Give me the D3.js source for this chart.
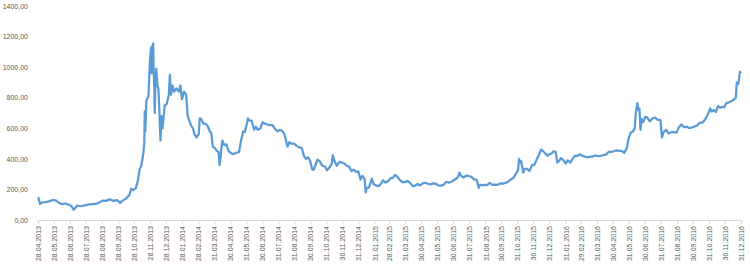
<!DOCTYPE html>
<html>
<head>
<meta charset="utf-8">
<script src="https://d3js.org/d3.v7.min.js"></script>
<style>
  body { margin: 0; background: #fff; }
  text { font-family: "Liberation Sans", Arial, sans-serif; fill: #595959; }
</style>
</head>
<body>
<script>
// price series (dd-mm pairs per year)
var dates2013 = ["04-28","04-29","05-02","05-06","05-12","05-19","05-26","06-01","06-08","06-13","06-20","06-27","07-01","07-05","07-08","07-12","07-19","07-26","08-02","08-09","08-16","08-23","08-30","09-05","09-12","09-19","09-26","10-02","10-06","10-13","10-20","10-23","10-27","11-01","11-05","11-08","11-11","11-15","11-17","11-18","11-19","11-21","11-25","11-28","11-30","12-01","12-02","12-04","12-05","12-06","12-07","12-08","12-10","12-12","12-14","12-16","12-18","12-20","12-22","12-26","12-30"];
var values2013 = [138,144,105,115,117,122,131,128,110,104,108,98,90,68,78,95,90,96,100,104,105,115,127,125,135,125,130,112,125,140,165,205,195,210,260,330,350,430,500,710,580,780,810,1050,1130,960,1130,1155,980,880,700,850,990,880,860,700,520,680,600,750,760];

var dates2014 = ["01-03","01-05","01-07","01-10","01-13","01-17","01-22","01-25","01-28","02-01","02-05","02-08","02-11","02-14","02-18","02-21","02-25","03-01","03-03","03-06","03-10","03-14","03-18","03-22","03-25","03-28","04-01","04-05","04-08","04-10","04-12","04-15","04-19","04-23","04-27","05-01","05-06","05-12","05-17","05-21","05-25","05-28","06-01","06-03","06-06","06-10","06-15","06-18","06-22","06-27","07-01","07-05","07-10","07-15","07-20","07-25","07-30","08-03","08-07","08-12","08-16","08-18","08-21","08-25","08-30","09-04","09-09","09-14","09-18","09-22","09-26","09-30","10-04","10-07","10-10","10-14","10-18","10-23","10-28","11-01","11-05","11-10","11-12","11-16","11-20","11-25","11-30","12-04","12-09","12-13","12-18","12-22","12-27","12-31"];
var values2014 = [820,950,820,880,840,860,840,880,790,840,820,680,650,620,600,560,540,560,665,660,630,630,615,580,570,480,470,450,445,360,420,520,490,495,450,440,430,440,445,520,580,575,630,665,650,650,590,610,590,600,640,630,625,620,620,595,580,590,585,560,500,480,510,500,500,485,475,470,420,400,410,385,330,330,360,395,385,355,350,325,340,365,425,380,355,380,375,370,355,350,320,330,315,318];

var dates2015 = ["01-04","01-08","01-12","01-14","01-16","01-20","01-26","01-29","02-03","02-08","02-13","02-16","02-21","02-26","03-03","03-07","03-11","03-15","03-20","03-25","03-30","04-04","04-09","04-14","04-18","04-23","04-28","05-03","05-08","05-13","05-18","05-23","05-28","06-02","06-07","06-12","06-17","06-22","06-27","07-01","07-06","07-10","07-12","07-15","07-20","07-25","07-30","08-04","08-09","08-14","08-18","08-20","08-24","08-29","09-03","09-08","09-13","09-18","09-23","09-28","10-03","10-08","10-13","10-18","10-23","10-28","11-01","11-03","11-05","11-07","11-11","11-14","11-18","11-23","11-28","12-02","12-06","12-10","12-15","12-17","12-22","12-27","12-31"];
var values2015 = [265,290,265,180,210,212,270,235,225,222,240,260,245,255,275,275,295,285,262,248,248,255,243,220,224,236,226,240,244,237,233,240,237,225,225,230,250,245,250,260,270,285,310,290,278,290,288,282,266,262,210,230,228,230,228,243,230,232,230,240,238,243,250,265,275,302,325,400,375,385,310,335,335,322,360,360,390,420,460,455,440,420,430];

var dates2016 = ["01-04","01-08","01-12","01-15","01-18","01-22","01-26","01-31","02-04","02-09","02-14","02-18","02-23","02-27","03-03","03-08","03-13","03-18","03-23","03-28","04-02","04-07","04-12","04-17","04-22","04-27","05-02","05-07","05-12","05-17","05-22","05-27","05-30","06-03","06-08","06-11","06-13","06-16","06-18","06-20","06-22","06-24","06-27","07-01","07-05","07-10","07-15","07-20","07-25","07-30","08-02","08-05","08-10","08-15","08-20","08-25","08-30","09-03","09-08","09-13","09-18","09-23","09-28","10-03","10-08","10-13","10-18","10-23","10-27","10-30","11-02","11-05","11-09","11-13","11-17","11-21","11-25","11-29","12-03","12-08","12-13","12-18","12-21","12-23","12-26","12-29","12-31"];
var values2016 = [435,450,445,375,385,405,393,370,390,375,405,420,420,430,420,415,410,415,415,422,418,420,425,428,445,445,450,455,452,452,440,470,530,570,580,600,700,765,720,730,590,660,640,675,670,645,665,670,655,655,540,575,590,565,575,575,572,605,625,607,610,602,605,612,617,636,637,655,680,700,730,710,720,705,745,735,740,738,765,770,778,790,800,900,890,970,960];

var xTickLabels = ["28.04.2013","28.05.2013","28.06.2013","28.07.2013","28.08.2013","28.09.2013","28.10.2013","28.11.2013","28.12.2013","28.01.2014","28.02.2014","31.03.2014","30.04.2014","31.05.2014","30.06.2014","31.07.2014","31.08.2014","30.09.2014","31.10.2014","30.11.2014","31.12.2014","31.01.2015","28.02.2015","31.03.2015","30.04.2015","31.05.2015","30.06.2015","31.07.2015","31.08.2015","30.09.2015","31.10.2015","30.11.2015","31.12.2015","31.01.2016","29.02.2016","31.03.2016","30.04.2016","31.05.2016","30.06.2016","31.07.2016","31.08.2016","30.09.2016","31.10.2016","30.11.2016","31.12.2016"];
var yTicks = [0,200,400,600,800,1000,1200,1400];

var width = 750, height = 269;
var margin = {top: 6, right: 9, bottom: 49, left: 38};

var parse = d3.timeParse("%Y-%m-%d");
var parseLabel = d3.timeParse("%d.%m.%Y");

var data = [];
[[2013, dates2013, values2013], [2014, dates2014, values2014],
 [2015, dates2015, values2015], [2016, dates2016, values2016]].forEach(function(s) {
  s[1].forEach(function(d, i) {
    data.push({date: parse(s[0] + "-" + d), value: s[2][i]});
  });
});

var tickDates = xTickLabels.map(parseLabel);

var svg = d3.select("body").append("svg")
    .attr("width", width)
    .attr("height", height);

var x = d3.scaleTime()
    .domain([tickDates[0], tickDates[tickDates.length - 1]])
    .range([margin.left, width - margin.right]);

var y = d3.scaleLinear()
    .domain([0, 1400])
    .range([height - margin.bottom, margin.top]);

// y axis labels, no line
var yAxis = svg.append("g")
    .attr("transform", "translate(" + margin.left + ",0)")
    .call(d3.axisLeft(y)
      .tickValues(yTicks)
      .tickSize(0)
      .tickPadding(10)
      .tickFormat(function(d) { return d.toFixed(2).replace(".", ","); }));
yAxis.select(".domain").remove();
yAxis.selectAll("text")
    .style("font-size", "7px")
    .style("fill", "#595959");

// x axis
var xAxis = svg.append("g")
    .attr("transform", "translate(0," + (height - margin.bottom) + ")")
    .call(d3.axisBottom(x)
      .tickValues(tickDates)
      .tickSize(4)
      .tickSizeOuter(0)
      .tickFormat(function(d, i) { return xTickLabels[i]; }));
xAxis.select(".domain").attr("stroke", "#d9d9d9");
xAxis.selectAll(".tick line").attr("stroke", "#d9d9d9");
xAxis.selectAll("text")
    .style("font-size", "7px")
    .style("fill", "#595959")
    .attr("text-anchor", "end")
    .attr("transform", "rotate(-90)")
    .attr("x", -6)
    .attr("y", 0)
    .attr("dy", "0.35em");

var line = d3.line()
    .x(function(d) { return x(d.date); })
    .y(function(d) { return y(d.value); });

svg.append("path")
    .datum(data)
    .attr("fill", "none")
    .attr("stroke", "#5b9bd5")
    .attr("stroke-width", 2.25)
    .attr("stroke-linejoin", "round")
    .attr("d", line);
</script>
</body>
</html>
